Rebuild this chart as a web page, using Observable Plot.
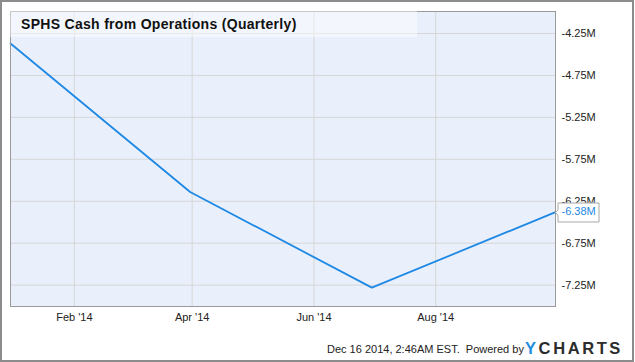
<!DOCTYPE html>
<html>
<head>
<meta charset="utf-8">
<script src="https://cdn.jsdelivr.net/npm/d3@7"></script>
<script src="https://cdn.jsdelivr.net/npm/@observablehq/plot@0.6"></script>
<style>
  html, body { margin: 0; padding: 0; background: #fff; }
  #wrap { position: relative; width: 635px; height: 362px; overflow: hidden; font-family: "Liberation Sans", Arial, sans-serif; }
  #chart { position: absolute; left: 0; top: 0; }
  #border { position: absolute; left: 0; top: 0; width: 634px; height: 362px; box-sizing: border-box; border: 2px solid #8c8c8c; pointer-events: none; z-index: 5; }
  #titlebox { position: absolute; left: 10px; top: 11px; width: 407px; height: 26px; background: rgba(255,255,255,0.45); z-index: 3; }
  #title { position: absolute; left: 21px; top: 17px; line-height: 15px; font-size: 14px; letter-spacing: 0.3px; font-weight: bold; color: #111; white-space: nowrap; z-index: 4; }
  #footer { position: absolute; left: 327px; top: 342px; line-height: 14px; font-size: 11px; color: #222; white-space: nowrap; z-index: 4; }
  #logo { position: absolute; left: 525px; top: 339px; line-height: 18px; font-size: 16.5px; font-weight: bold; letter-spacing: 2.6px; color: #2c2c2c; white-space: nowrap; z-index: 4; }
  #logo .y { color: #1d8fe1; }
  svg g[aria-label="tip"] text { fill: #1e88e5; }
</style>
</head>
<body>
<div id="wrap">
  <div id="chart"></div>
  <div id="titlebox"></div>
  <div id="title">SPHS Cash from Operations (Quarterly)</div>
  <div id="footer">Dec 16 2014, 2:46AM EST.&nbsp; Powered by</div>
  <div id="logo"><span class="y">Y</span>CHARTS</div>
  <div id="border"></div>
</div>
<script>
// Data (values in millions USD)
const periodEnds = ["2013-12-31", "2014-03-31", "2014-06-30", "2014-09-30"];
const cashFromOps = [-4.37, -6.14, -7.28, -6.38];
const yTickValues = [-4.25, -4.75, -5.25, -5.75, -6.25, -6.75, -7.25];
const xTickDates = ["2014-02-01", "2014-04-01", "2014-06-01", "2014-08-01"];

const parse = d3.utcParse("%Y-%m-%d");
const data = periodEnds.map((d, i) => ({date: parse(d), value: cashFromOps[i]}));
const xTicks = xTickDates.map(parse);
const last = data[data.length - 1];
const fmtM = v => v.toFixed(2).replace("\u2212", "-") + "M";

const chart = Plot.plot({
  width: 635,
  height: 362,
  marginLeft: 10,
  marginRight: 80,
  marginTop: 11,
  marginBottom: 56,
  style: {fontFamily: "Liberation Sans, Arial, sans-serif", fontSize: "11px", color: "#222", background: "transparent", overflow: "visible"},
  x: {type: "utc", domain: [data[0].date, last.date]},
  y: {domain: [-7.505, -3.988]},
  marks: [
    Plot.frame({fill: "#e9f0fc", stroke: null}),
    Plot.gridY(yTickValues, {stroke: "#d6d6d6", strokeOpacity: 1}),
    Plot.gridX(xTicks, {stroke: "#d6d6d6", strokeOpacity: 1}),
    Plot.line(data, {x: "date", y: "value", stroke: "#1e88e5", strokeWidth: 1.8}),
    Plot.frame({stroke: "#9a9a9a"}),
    Plot.axisY(yTickValues, {anchor: "right", tickSize: 0, tickPadding: 6, tickFormat: fmtM, fill: "#222", label: null}),
    Plot.axisX(xTicks, {anchor: "bottom", tickSize: 0, tickPadding: 7, tickFormat: d3.utcFormat("%b '%y"), fill: "#222", label: null}),
    Plot.tip([last], {x: "date", y: "value", title: d => fmtM(d.value), anchor: "left", fill: "white", stroke: "#a8a8a8", pathFilter: "none", pointerSize: 5, textPadding: 3.5, fontSize: 11})
  ]
});
document.getElementById("chart").appendChild(chart);
</script>
</body>
</html>
